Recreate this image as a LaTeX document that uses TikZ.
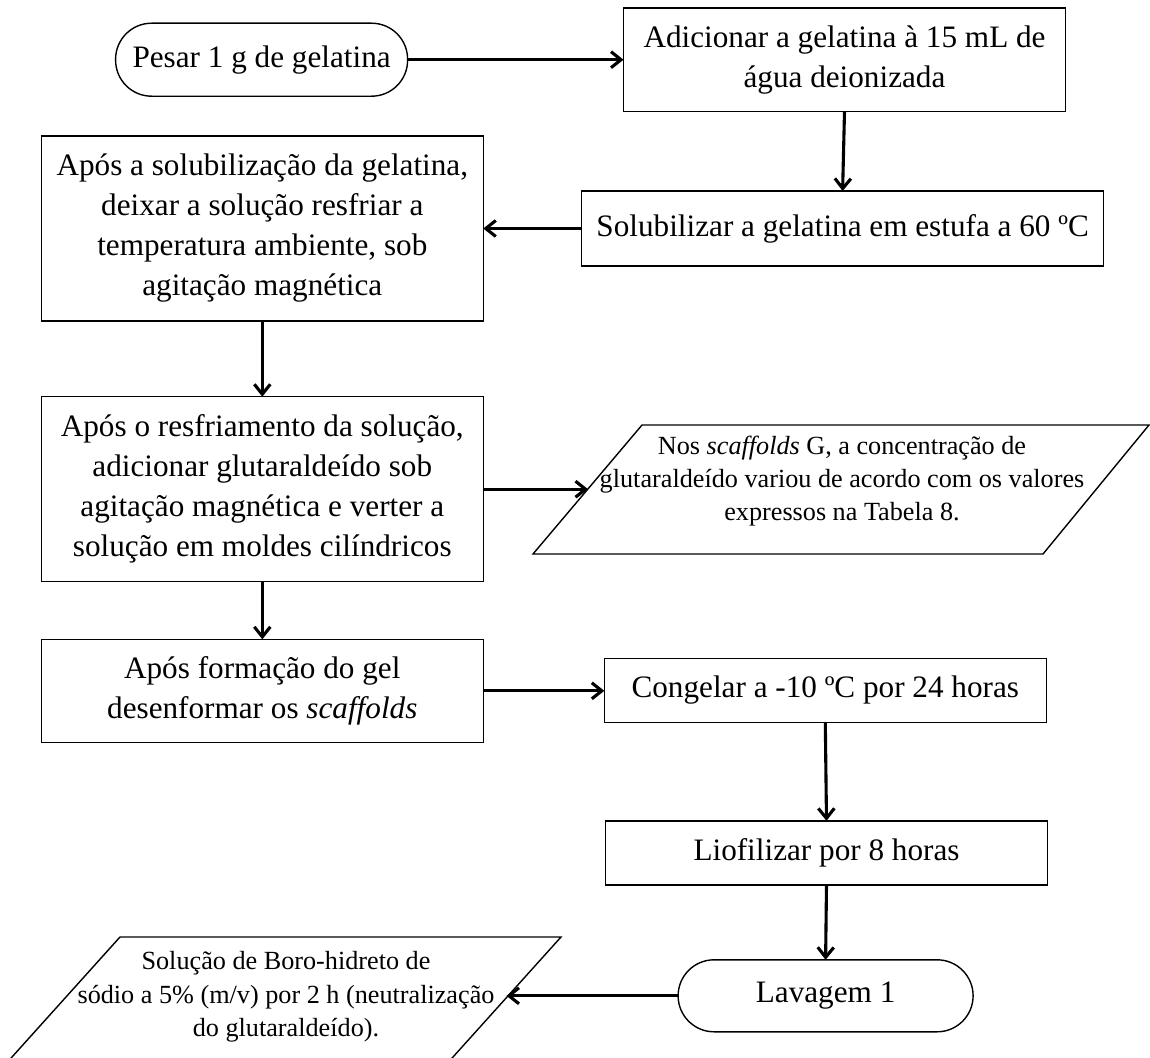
\documentclass[tikz,border=0pt]{standalone}
\usepackage{fontspec}
\setmainfont{Liberation Serif}
\usetikzlibrary{arrows.meta}
\begin{document}
\begin{tikzpicture}[x=1pt,y=-1pt,
  box/.style={draw, line width=1.4pt, inner sep=0pt, outer sep=0pt, align=center,
              font=\fontsize{31.2}{40}\selectfont},
  term/.style={box, rounded corners=36pt},
  note/.style={inner sep=0pt, align=center, font=\fontsize{26.2}{33.3}\selectfont},
  flow/.style={line width=3.1pt, -{Straight Barb[length=10pt,width=16pt]}},
  slanted/.style={line width=1.4pt, line join=miter}]
\clip (0,0) rectangle (1150,1057);

% process steps
\node[term, minimum width=292pt, minimum height=73pt] (pesar) at (261.6,59.7) {Pesar 1 g de gelatina};
\node[box, minimum width=442pt, minimum height=103pt] (adic) at (844.5,59.7)
  {Adicionar a gelatina à 15 mL de\\água deionizada};
\node[box, minimum width=522pt, minimum height=75pt] (solub) at (842.6,228.5)
  {Solubilizar a gelatina em estufa a 60 ºC};
\node[box, minimum width=442pt, minimum height=185pt] (resfr) at (262.3,228.5)
  {Após a solubilização da gelatina,\\deixar a solução resfriar a\\temperatura ambiente, sob\\agitação magnética};
\node[box, minimum width=442pt, minimum height=185pt] (glut) at (262.3,489.2)
  {Após o resfriamento da solução,\\adicionar glutaraldeído sob\\agitação magnética e verter a\\solução em moldes cilíndricos};
\node[box, minimum width=442pt, minimum height=103pt] (gel) at (262.3,690.8)
  {Após formação do gel\\desenformar os \textit{scaffolds}};
\node[box, minimum width=442pt, minimum height=64pt] (cong) at (825.3,690.5)
  {Congelar a -10 ºC por 24 horas};
\node[box, minimum width=442pt, minimum height=64pt] (liof) at (826.5,852.8)
  {Liofilizar por 8 horas};
\node[term, minimum width=295pt, minimum height=72pt] (lav) at (825.6,995.8) {Lavagem 1};

% data notes (parallelograms)
\draw[slanted] (642,425) -- (1149,425) -- (1043,554) -- (533,554) -- cycle;
\node[note] (nota) at (842,481)
  {Nos \textit{scaffolds} G, a concentração de\\glutaraldeído variou de acordo com os valores\\expressos na Tabela 8.};
\coordinate (notain) at (588,489.2);

\draw[slanted] (120,937) -- (561,937) -- (435,1077) -- (-6,1077) -- cycle;
\node[note] (boro) at (286,997)
  {Solução de Boro-hidreto de\\sódio a 5\% (m/v) por 2 h (neutralização\\do glutaraldeído).};
\coordinate (boroin) at (506.5,995.8);

% connectors
\draw[flow] (pesar.east) -- (adic.west);
\draw[flow] (adic.south) -- (solub.north);
\draw[flow] (solub.west) -- (resfr.east);
\draw[flow] (resfr.south) -- (glut.north);
\draw[flow] (glut.east) -- (notain);
\draw[flow] (glut.south) -- (gel.north);
\draw[flow] (gel.east) -- (gel.east -| cong.west);
\draw[flow] (cong.south) -- (liof.north);
\draw[flow] (liof.south) -- (lav.north);
\draw[flow] (lav.west) -- (boroin);
\end{tikzpicture}
\end{document}
